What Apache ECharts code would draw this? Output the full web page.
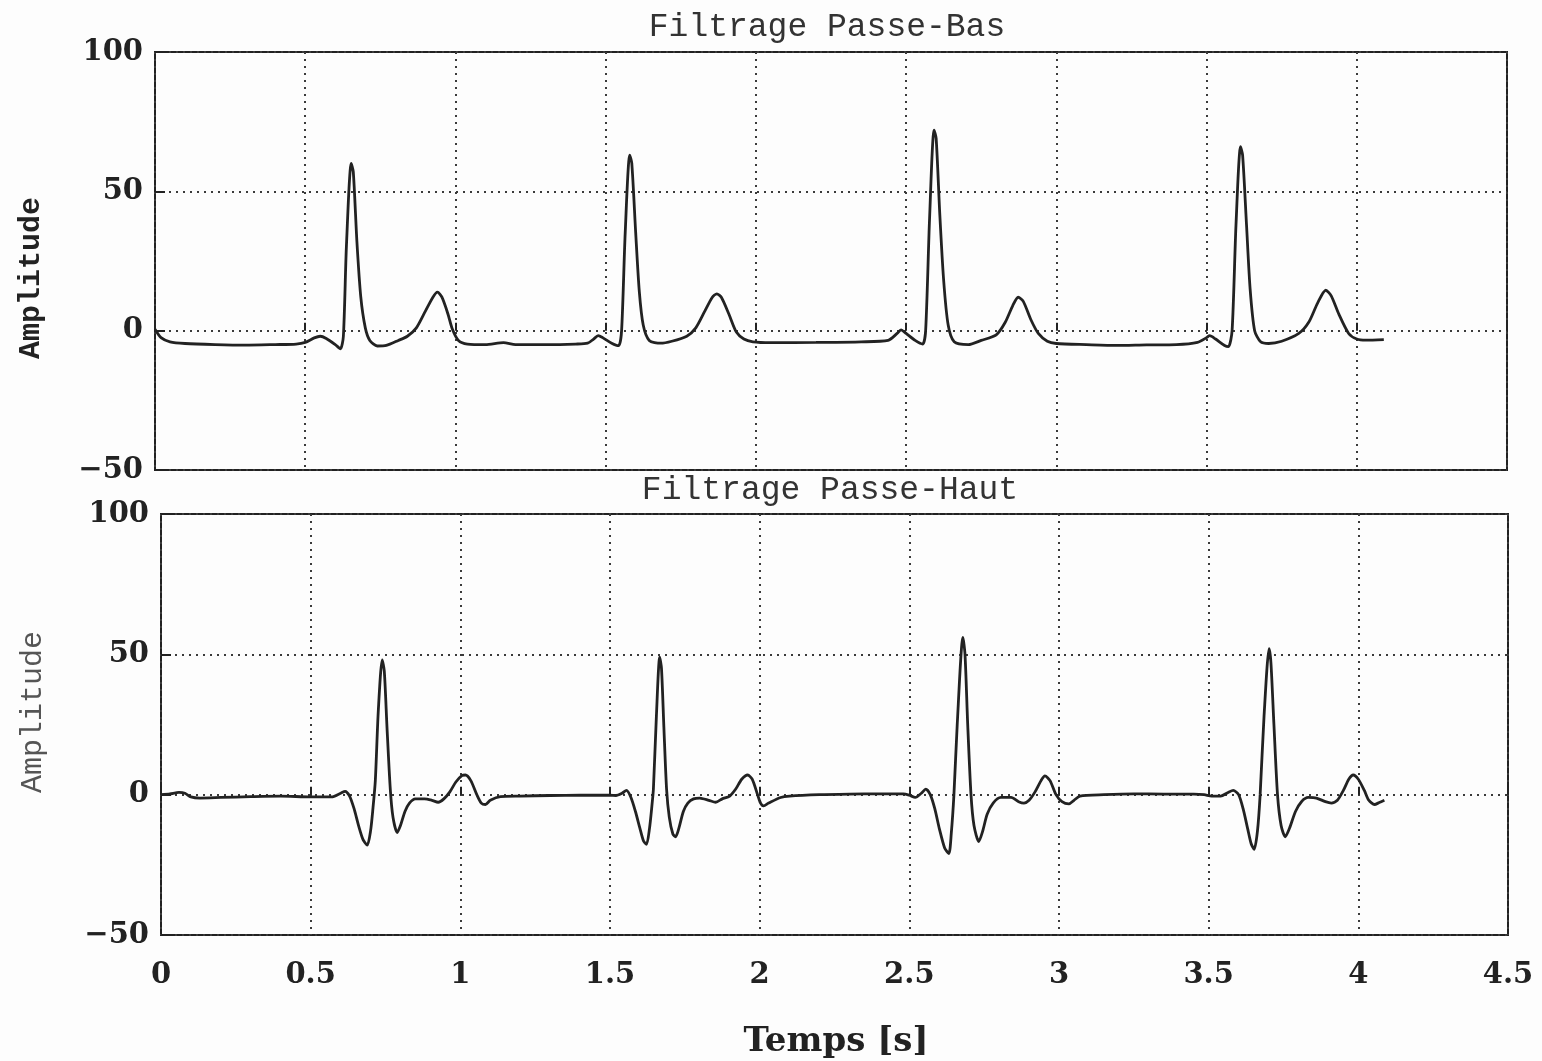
<!DOCTYPE html>
<html>
<head>
<meta charset="utf-8">
<script src="https://cdn.jsdelivr.net/npm/echarts@6/dist/echarts.min.js"></script>
<style>
html,body{margin:0;padding:0;background:#fdfdfd;}
#chart{width:1542px;height:1061px;}
</style>
</head>
<body>
<div id="chart"></div>
<script>
// ---- data ----
const titles = ['Filtrage Passe-Bas', 'Filtrage Passe-Haut'];
const xTicks = [0, 0.5, 1, 1.5, 2, 2.5, 3, 3.5, 4, 4.5];
const yTicks = [-50, 0, 50, 100];
const xLabel = 'Temps [s]';
const yLabel = 'Amplitude';

// low-pass filtered signal [time s, amplitude]
const lowPass = [
 [0,0.5],[0.02,-2.5],[0.05,-4],[0.1,-4.6],[0.2,-5],[0.3,-5.2],[0.4,-5],[0.47,-4.8],[0.5,-4.2],[0.53,-2.6],[0.55,-2],[0.57,-2.8],[0.6,-5],[0.617,-6.5],[0.627,-2],[0.637,30],[0.653,60],[0.66,57],[0.672,32],[0.685,12],[0.7,1],[0.715,-3.5],[0.74,-5.5],[0.77,-5.3],[0.81,-3.5],[0.84,-2],[0.87,1],[0.9,7],[0.925,12],[0.94,13.8],[0.955,12],[0.975,6],[0.99,0.5],[1.01,-3.5],[1.04,-4.8],[1.1,-5],[1.16,-4.3],[1.2,-5],[1.3,-5],[1.4,-4.8],[1.44,-4.5],[1.46,-3],[1.475,-1.8],[1.49,-2.5],[1.52,-4.5],[1.543,-5.4],[1.553,0],[1.565,35],[1.58,63],[1.587,60],[1.6,35],[1.612,14],[1.625,2],[1.645,-3.5],[1.683,-4.5],[1.72,-3.8],[1.77,-2],[1.8,1],[1.83,7],[1.855,12],[1.87,13.2],[1.885,12],[1.91,6],[1.935,-0.5],[1.96,-3],[1.99,-4],[2.05,-4.3],[2.2,-4.2],[2.35,-4],[2.44,-3.5],[2.47,-1],[2.483,0.3],[2.5,-1],[2.53,-3.5],[2.555,-4.8],[2.565,0],[2.578,40],[2.593,72],[2.6,69],[2.612,42],[2.625,18],[2.64,2],[2.66,-4],[2.707,-5],[2.75,-3.5],[2.8,-1.5],[2.83,3],[2.855,9],[2.873,12],[2.89,10.5],[2.915,4],[2.94,-1],[2.97,-3.8],[3.0,-4.6],[3.1,-5],[3.2,-5.3],[3.3,-5.1],[3.4,-5],[3.47,-4.2],[3.5,-2.5],[3.51,-1.8],[3.53,-3],[3.56,-5.3],[3.573,-5.7],[3.585,0],[3.598,38],[3.613,66],[3.62,63],[3.633,38],[3.645,15],[3.66,0],[3.68,-4],[3.707,-4.6],[3.75,-3.8],[3.807,-1],[3.84,3],[3.87,10],[3.897,14.5],[3.915,12.5],[3.94,6],[3.973,-1],[4.0,-3],[4.03,-3.4],[4.09,-3.2]
];

// high-pass filtered signal [time s, amplitude]
const highPass = [
 [0,0],[0.03,0.3],[0.06,0.8],[0.08,0.5],[0.1,-0.8],[0.13,-1.2],[0.2,-1],[0.3,-0.7],[0.4,-0.5],[0.5,-0.8],[0.57,-0.8],[0.6,0.5],[0.615,1.2],[0.63,-0.5],[0.645,-5],[0.66,-11],[0.675,-16],[0.689,-18],[0.7,-13],[0.708,-5],[0.716,5],[0.726,30],[0.739,48],[0.746,44],[0.755,24],[0.766,2],[0.775,-8],[0.789,-13.5],[0.8,-11],[0.815,-6],[0.83,-3],[0.85,-1.5],[0.88,-1.5],[0.905,-2],[0.926,-2.7],[0.945,-1.5],[0.965,1],[0.985,4.5],[1.005,6.8],[1.017,7],[1.035,5],[1.055,0],[1.07,-3],[1.084,-3.5],[1.1,-2],[1.134,-0.7],[1.2,-0.5],[1.3,-0.3],[1.4,-0.2],[1.5,-0.2],
 [1.52,-0.3],[1.54,0.5],[1.555,1.5],[1.57,-1],[1.585,-6],[1.6,-12],[1.612,-16.5],[1.622,-17.7],[1.632,-12],[1.64,-4],[1.645,2],[1.655,28],[1.666,49],[1.672,45],[1.68,24],[1.689,2],[1.698,-8],[1.71,-14],[1.719,-15],[1.73,-12],[1.745,-6],[1.76,-3],[1.779,-1.5],[1.8,-1.2],[1.83,-2],[1.853,-2.7],[1.875,-1.5],[1.9,-0.5],[1.92,2],[1.94,5.5],[1.96,7],[1.975,5.5],[1.993,0],[2.003,-3],[2.013,-4],[2.03,-3],[2.07,-1],[2.1,-0.5],[2.2,0],[2.3,0.2],[2.4,0.3],[2.48,0.3],
 [2.5,-0.2],[2.52,-1],[2.54,0.5],[2.555,2],[2.57,0],[2.585,-5],[2.6,-12],[2.618,-19],[2.632,-21],[2.64,-14],[2.649,0],[2.66,25],[2.679,56],[2.686,50],[2.695,25],[2.706,0],[2.716,-11],[2.732,-16.7],[2.745,-13],[2.76,-7],[2.78,-3],[2.806,-1],[2.84,-1],[2.865,-2.5],[2.883,-3],[2.9,-2],[2.92,1],[2.94,5],[2.953,6.7],[2.97,5],[2.99,0],[3.01,-2.5],[3.033,-3.3],[3.05,-2],[3.07,-0.5],[3.15,0],[3.25,0.3],[3.35,0.2],[3.45,0.2],[3.485,0],[3.51,-0.5],[3.54,-0.5],[3.565,0.8],[3.582,1.5],[3.6,0],[3.615,-5],[3.63,-12],[3.642,-17.5],[3.652,-19.5],[3.663,-13],[3.672,0],[3.685,28],[3.702,52],[3.708,47],[3.718,25],[3.73,0],[3.742,-11],[3.756,-15],[3.77,-12],[3.79,-6],[3.81,-2.5],[3.833,-1],[3.86,-1.2],[3.89,-2.5],[3.91,-3],[3.93,-2],[3.95,1.5],[3.968,5.5],[3.983,7],[4.0,5.5],[4.02,1.5],[4.035,-2],[4.054,-3.5],[4.07,-2.8],[4.087,-2]
];

// ---- chart ----
const chart = echarts.init(document.getElementById('chart'));
const labelFont = {fontFamily: 'DejaVu Serif', fontWeight: 'bold', fontSize: 29, color: '#222'};
const gridLine = {show: true, lineStyle: {color: '#3a3a3a', width: 2, type: [2, 5]}};
const fmtY = v => (v < 0 ? '\u2212' + Math.abs(v) : String(v));

function xAxis(idx, showLabels) {
  return {
    type: 'value', gridIndex: idx, min: xTicks[0], max: xTicks[xTicks.length - 1], interval: 0.5,
    axisLine: {show: false},
    axisTick: {show: true, inside: true, length: 8, lineStyle: {color: '#222', width: 2}},
    axisLabel: Object.assign({show: showLabels, margin: 26, formatter: v => String(v)}, labelFont),
    splitLine: gridLine
  };
}
function yAxis(idx) {
  return {
    type: 'value', gridIndex: idx, min: yTicks[0], max: yTicks[yTicks.length - 1], interval: 50,
    axisLine: {show: false},
    axisTick: {show: true, inside: true, length: 10, lineStyle: {color: '#222', width: 2}},
    axisLabel: Object.assign({margin: 12, formatter: fmtY}, labelFont),
    splitLine: gridLine
  };
}

chart.setOption({
  backgroundColor: '#fdfdfd',
  animation: false,
  grid: [
    {left: 155, top: 52, width: 1352, height: 418, show: true, borderColor: '#222', borderWidth: 2, backgroundColor: 'transparent'},
    {left: 161, top: 514, width: 1347, height: 421, show: true, borderColor: '#222', borderWidth: 2, backgroundColor: 'transparent'}
  ],
  xAxis: [xAxis(0, false), xAxis(1, true)],
  yAxis: [yAxis(0), yAxis(1)],
  series: [
    {type: 'line', xAxisIndex: 0, yAxisIndex: 0, data: lowPass, showSymbol: false, smooth: 0.25,
     lineStyle: {color: '#222', width: 2.8}},
    {type: 'line', xAxisIndex: 1, yAxisIndex: 1, data: highPass, showSymbol: false, smooth: 0.25,
     lineStyle: {color: '#222', width: 2.8}}
  ],
  graphic: [
    {type: 'text', x: 827, y: 27, style: {text: titles[0], font: '33px "Liberation Mono"', fill: '#333', textAlign: 'center', textVerticalAlign: 'middle'}},
    {type: 'text', x: 830, y: 490, style: {text: titles[1], font: '33px "Liberation Mono"', fill: '#333', textAlign: 'center', textVerticalAlign: 'middle'}},
    {type: 'text', x: 31, y: 278, rotation: Math.PI / 2, style: {text: yLabel, font: 'bold 30px "Liberation Mono"', fill: '#222', textAlign: 'center', textVerticalAlign: 'middle'}},
    {type: 'text', x: 33, y: 712, rotation: Math.PI / 2, style: {text: yLabel, font: '30px "Liberation Mono"', fill: '#555', textAlign: 'center', textVerticalAlign: 'middle'}},
    {type: 'text', x: 836, y: 1042, style: {text: xLabel, font: 'bold 34px "DejaVu Serif"', fill: '#222', textAlign: 'center', textVerticalAlign: 'middle'}}
  ]
});
</script>
</body>
</html>
